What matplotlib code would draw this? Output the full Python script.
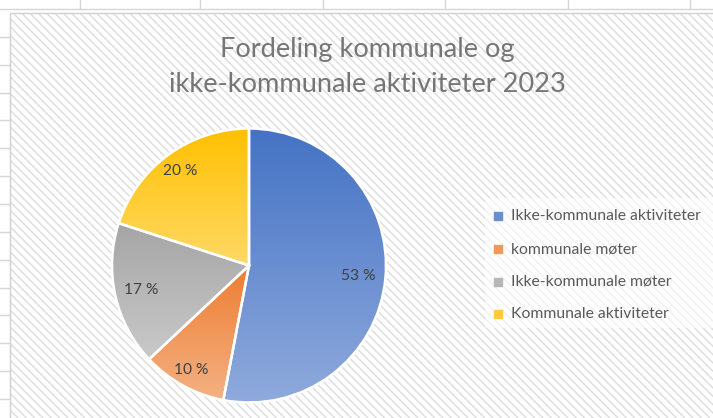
import numpy as np
import matplotlib
matplotlib.use("Agg")
import matplotlib.pyplot as plt
from matplotlib.patches import Rectangle

# data
labels = ['Ikke-kommunale aktiviteter', 'kommunale møter',
          'Ikke-kommunale møter', 'Kommunale aktiviteter']
values = [53, 10, 17, 20]
title = 'Fordeling kommunale og\nikke-kommunale aktiviteter 2023'

# gradient colours per slice (top -> bottom)
top_cols = ['#4472C4', '#ED7D31', '#A5A5A5', '#FFC000']
bot_cols = ['#8FAADC', '#F4B183', '#C9C9C9', '#FFD966']
leg_cols = ['#6A8FD0', '#F09A60', '#B7B7B7', '#FFCC33']
lab_dist = [0.80, 0.87, 0.81, 0.85]

W, H = 713, 418
plt.rcParams['font.family'] = ['Lato', 'DejaVu Sans']
plt.rcParams['hatch.linewidth'] = 1.0
plt.rcParams['hatch.color'] = '#DCDCDC'

fig = plt.figure(figsize=(W / 100, H / 100), dpi=100)
ax = fig.add_axes([0, 0, 1, 1])
ax.set_axis_off()

# spreadsheet grid behind the chart
grid = '#D6D6D6'
ax.plot([0, W], [H - 9, H - 9], color=grid, lw=1, zorder=0)
for x in [80, 200, 323, 445, 568, 690]:
    ax.plot([x, x], [H - 9, H], color=grid, lw=1, zorder=0)
for k in range(1, 15):
    y = 9 + 27.86 * k
    ax.plot([0, 10], [H - y, H - y], color=grid, lw=1, zorder=0)

# chart area with diagonal stripes
bg = Rectangle((10, -5), W, H - 13 + 5, facecolor='white', edgecolor='#D0D0D0',
               lw=1.0, zorder=0.5)
ax.add_patch(bg)
stripes = Rectangle((10.5, -5), W, H - 13.5 + 5, facecolor='none', edgecolor='#DCDCDC',
                    hatch='\\\\\\\\', lw=0, zorder=0.6)
ax.add_patch(stripes)

cx, cy, R = 249, H - 265.5, 137
wedges, _ = ax.pie(values, startangle=90, counterclock=False, center=(cx, cy),
                   radius=R, frame=True,
                   wedgeprops=dict(edgecolor='white', linewidth=1.8))

for i, w in enumerate(wedges):
    w.set_facecolor('none')
    w.set_zorder(3)
    t = np.radians(np.linspace(w.theta1, w.theta2, 200))
    xs = np.r_[cx, cx + R * np.cos(t)]
    ys = np.r_[cy, cy + R * np.sin(t)]
    c1 = np.array(matplotlib.colors.to_rgb(top_cols[i]))
    c2 = np.array(matplotlib.colors.to_rgb(bot_cols[i]))
    f = np.linspace(0, 1, 256)[:, None]
    img = (c1 * (1 - f) + c2 * f)[:, None, :]
    im = ax.imshow(img, extent=[xs.min(), xs.max(), ys.min(), ys.max()],
                   origin='upper', aspect='auto', interpolation='bilinear', zorder=2)
    im.set_clip_path(w)
    mid = np.radians((w.theta1 + w.theta2) / 2)
    ax.text(cx + lab_dist[i] * R * np.cos(mid), cy + lab_dist[i] * R * np.sin(mid),
            f'{values[i] / sum(values) * 100:.0f} %', ha='center', va='center',
            fontsize=11.2, color='#404040', zorder=4)

# title
ax.text(367, H - 67, title, ha='center', va='center', fontsize=19.6,
        color='#767676', linespacing=1.5, zorder=4)

# legend
ax.add_patch(Rectangle((485, H - 328), 240, 130, facecolor='white', alpha=0.6,
                       lw=0, zorder=1))
leg_y = [216, 249, 282, 314]
for i in range(len(labels)):
    ax.scatter([498], [H - leg_y[i]], marker='s', s=28, color=leg_cols[i], zorder=4)
    ax.text(511, H - leg_y[i], labels[i], ha='left', va='center', fontsize=11.3,
            color='#595959', zorder=4)

ax.set_xlim(0, W)
ax.set_ylim(0, H)
ax.set_aspect('auto')
fig.savefig('out.png', dpi=100)
